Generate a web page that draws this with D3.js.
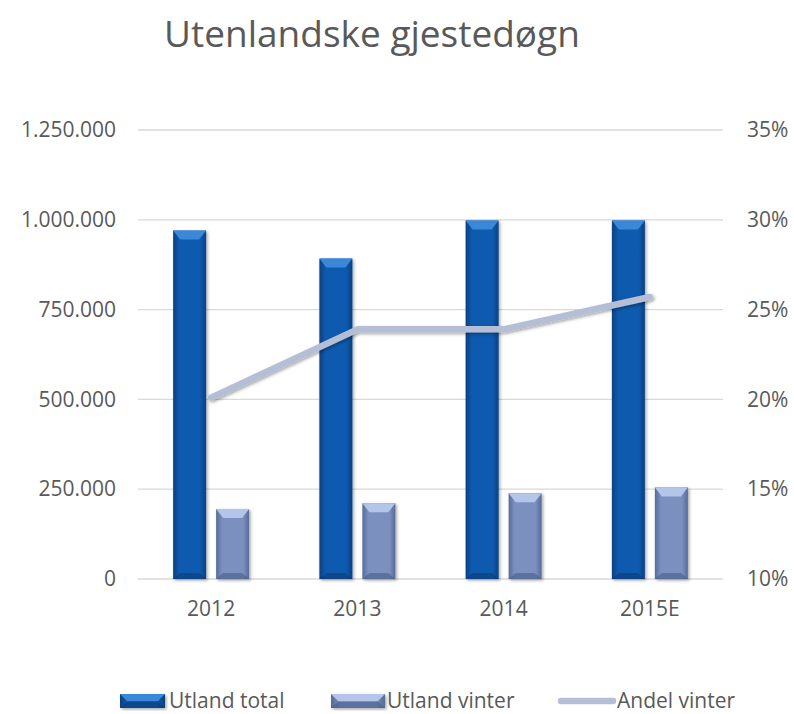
<!DOCTYPE html>
<html>
<head>
<meta charset="utf-8">
<script src="https://cdn.jsdelivr.net/npm/d3@7"></script>
<style>
  html, body { margin: 0; padding: 0; background: #fff; }
  svg { display: block; font-family: "Open Sans", "Noto Sans", sans-serif; }
</style>
</head>
<body>
<svg id="chart" width="794" height="714"></svg>
<script>
// Guest nights by foreign visitors, with winter share
const categories = ["2012", "2013", "2014", "2015E"];
const utlandTotal = [970000, 892000, 998000, 998000];
const utlandVinter = [195000, 211000, 239000, 255000];
const andelVinter = [0.201, 0.239, 0.239, 0.257];
const leftTicks = [0, 250000, 500000, 750000, 1000000, 1250000];
const rightTicks = [0.10, 0.15, 0.20, 0.25, 0.30, 0.35];
const seriesNames = ["Utland total", "Utland vinter", "Andel vinter"];

const svg = d3.select("#chart");
const plot = { left: 138, right: 723, top: 130, bottom: 579 };

const x = d3.scaleBand().domain(categories).range([plot.left, plot.right]);
const yL = d3.scaleLinear().domain([0, 1250000]).range([plot.bottom, plot.top]);
const yR = d3.scaleLinear().domain([0.10, 0.35]).range([plot.bottom, plot.top]);

const fmtN = v => d3.format(",")(v).replace(/,/g, ".");
const fmtP = d3.format(".0%");
const textCol = "#595959";
const fs = 21;

// Gradients and shadow
const defs = svg.append("defs");
function barGrad(id, edge, mid) {
  const g = defs.append("linearGradient").attr("id", id).attr("x1", 0).attr("x2", 1).attr("y1", 0).attr("y2", 0);
  g.append("stop").attr("offset", 0).attr("stop-color", edge);
  g.append("stop").attr("offset", 0.18).attr("stop-color", mid);
  g.append("stop").attr("offset", 0.82).attr("stop-color", mid);
  g.append("stop").attr("offset", 1).attr("stop-color", edge);
}
barGrad("gTotal", "#0a3f80", "#0d5aae");
barGrad("gVinter", "#566b98", "#7b90bf");
const sh = defs.append("filter").attr("id", "shadow").attr("x", "-30%").attr("y", "-10%").attr("width", "160%").attr("height", "130%");
sh.append("feDropShadow").attr("dx", 1.5).attr("dy", 1.5).attr("stdDeviation", 1.8).attr("flood-color", "#000").attr("flood-opacity", 0.35);

// Title
svg.append("text").attr("x", 372).attr("y", 47).attr("text-anchor", "middle")
  .attr("font-size", 37).attr("fill", textCol).text("Utenlandske gjestedøgn");

// Gridlines
svg.append("g").selectAll("line").data(leftTicks).join("line")
  .attr("x1", plot.left).attr("x2", plot.right)
  .attr("y1", d => yL(d)).attr("y2", d => yL(d))
  .attr("stroke", "#d9d9d9").attr("stroke-width", 1.3);

// Left axis
const axL = svg.append("g").attr("transform", `translate(116,0)`)
  .call(d3.axisLeft(yL).tickValues(leftTicks).tickFormat(fmtN).tickSize(0).tickPadding(0));
axL.select(".domain").remove();
axL.selectAll("text").attr("fill", textCol).attr("font-size", fs).attr("font-family", "Open Sans");

// Right axis
const axR = svg.append("g").attr("transform", `translate(747,0)`)
  .call(d3.axisRight(yR).tickValues(rightTicks).tickFormat(fmtP).tickSize(0).tickPadding(0));
axR.select(".domain").remove();
axR.selectAll("text").attr("fill", textCol).attr("font-size", fs).attr("font-family", "Open Sans");

// Category axis
const axB = svg.append("g").attr("transform", `translate(0,${plot.bottom + 18})`)
  .call(d3.axisBottom(x).tickSize(0).tickPadding(4));
axB.select(".domain").remove();
axB.selectAll("text").attr("fill", textCol).attr("font-size", fs).attr("font-family", "Open Sans");

// Bevelled bar
const barW = 33, gap = 10;
function drawBar(g, x0, y0, w, h, grad, light, dark) {
  const b = Math.min(9, h / 2);
  const s = g.append("g").attr("filter", "url(#shadow)");
  s.append("rect").attr("x", x0).attr("y", y0).attr("width", w).attr("height", h).attr("fill", `url(#${grad})`);
  s.append("path").attr("d", `M${x0},${y0}L${x0 + w},${y0}L${x0 + w - 7},${y0 + b}L${x0 + 7},${y0 + b}Z`).attr("fill", light);
  s.append("path").attr("d", `M${x0},${y0 + h}L${x0 + w},${y0 + h}L${x0 + w - 7},${y0 + h - 6}L${x0 + 7},${y0 + h - 6}Z`).attr("fill", dark).attr("opacity", 0.6);
}

const bars = svg.append("g");
categories.forEach((c, i) => {
  const cx = x(c) + x.bandwidth() / 2;
  drawBar(bars, cx - gap / 2 - barW, yL(utlandTotal[i]), barW, yL(0) - yL(utlandTotal[i]), "gTotal", "#3b88d8", "#083a75");
  drawBar(bars, cx + gap / 2, yL(utlandVinter[i]), barW, yL(0) - yL(utlandVinter[i]), "gVinter", "#b3c5e8", "#4a5d88");
});

// Winter share line
const line = d3.line().x((d, i) => x(categories[i]) + x.bandwidth() / 2).y(d => yR(d));
svg.append("path").datum(andelVinter).attr("d", line)
  .attr("fill", "none").attr("stroke", "#b4bfd6").attr("stroke-width", 6.5)
  .attr("stroke-linecap", "round").attr("stroke-linejoin", "round").attr("filter", "url(#shadow)");

// Legend
const lg = svg.append("g");
const ly = 701;
drawBar(lg, 120, ly - 7, 45, 14, "gTotal", "#3b88d8", "#083a75");
lg.append("text").attr("x", 169).attr("y", ly + 7).attr("font-size", fs).attr("fill", textCol).text(seriesNames[0]);
drawBar(lg, 331, ly - 7, 54, 14, "gVinter", "#b3c5e8", "#4a5d88");
lg.append("text").attr("x", 387).attr("y", ly + 7).attr("font-size", fs).attr("fill", textCol).text(seriesNames[1]);
lg.append("line").attr("x1", 561).attr("x2", 613).attr("y1", ly).attr("y2", ly)
  .attr("stroke", "#b4bfd6").attr("stroke-width", 6.5).attr("stroke-linecap", "round");
lg.append("text").attr("x", 617).attr("y", ly + 7).attr("font-size", fs).attr("fill", textCol).text(seriesNames[2]);
</script>
</body>
</html>
